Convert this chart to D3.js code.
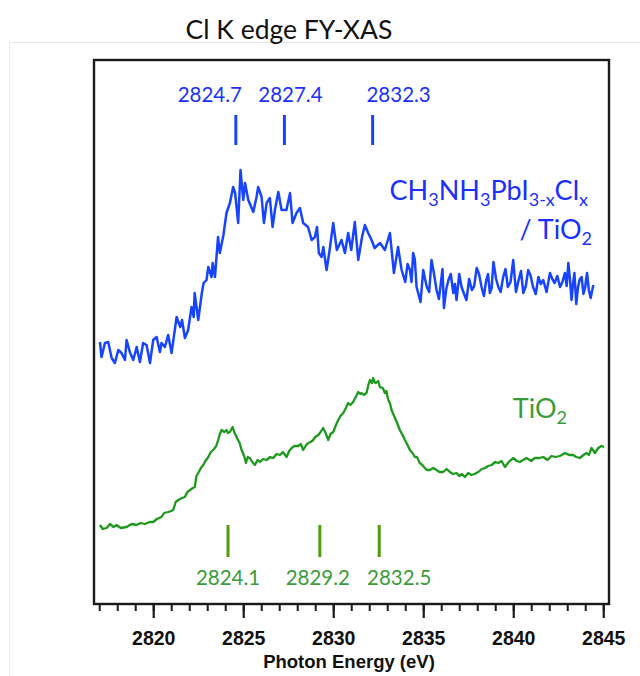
<!DOCTYPE html>
<html>
<head>
<meta charset="utf-8">
<script src="https://cdn.jsdelivr.net/npm/d3@7"></script>
<style>
  body { margin: 0; background: #fff; }
  svg { display: block; }
</style>
</head>
<body>
<svg id="chart" width="640" height="676"></svg>
<script>
// perovskite film on TiO2 (blue), energy in eV and fluorescence yield (a.u.)
const pvkEnergy = [2817.04,2817.13,2817.32,2817.5,2817.69,2817.87,2818.06,2818.24,2818.43,2818.52,2818.7,2818.89,2819.08,2819.26,2819.44,2819.63,2819.82,2820.0,2820.19,2820.37,2820.46,2820.65,2820.83,2821.02,2821.3,2821.5,2821.6,2821.76,2821.94,2822.13,2822.25,2822.3,2822.5,2822.7,2822.8,2822.96,2823.06,2823.24,2823.3,2823.43,2823.6,2823.7,2823.9,2824.07,2824.26,2824.44,2824.55,2824.72,2824.85,2825.0,2825.1,2825.28,2825.56,2825.74,2825.83,2826.02,2826.15,2826.3,2826.48,2826.63,2826.76,2826.95,2827.13,2827.4,2827.6,2827.74,2827.96,2828.15,2828.33,2828.6,2828.8,2828.98,2829.1,2829.2,2829.35,2829.45,2829.63,2829.8,2830.0,2830.2,2830.46,2830.65,2830.83,2831.0,2831.2,2831.39,2831.6,2831.76,2831.94,2832.13,2832.3,2832.6,2832.87,2833.15,2833.37,2833.6,2833.8,2834.0,2834.13,2834.26,2834.35,2834.44,2834.53,2834.63,2834.85,2835.0,2835.1,2835.2,2835.33,2835.46,2835.6,2835.74,2835.87,2836.0,2836.07,2836.15,2836.28,2836.4,2836.53,2836.67,2836.76,2836.85,2837.0,2837.13,2837.27,2837.4,2837.55,2837.7,2837.83,2837.97,2838.1,2838.24,2838.37,2838.5,2838.6,2838.7,2838.8,2838.9,2839.05,2839.17,2839.3,2839.44,2839.57,2839.7,2839.85,2840.0,2840.15,2840.3,2840.43,2840.56,2840.7,2840.83,2840.97,2841.1,2841.25,2841.4,2841.53,2841.67,2841.85,2842.04,2842.17,2842.3,2842.45,2842.6,2842.73,2842.87,2842.97,2843.06,2843.15,2843.24,2843.32,2843.4,2843.5,2843.6,2843.7,2843.8,2843.9,2844.0,2844.05,2844.1,2844.2,2844.3,2844.45];
const pvkYield = [262,247,261,262,246,241,254,251,244,264,252,244,257,242,261,259,241,264,267,252,261,257,269,251,287,277,284,266,274,297,287,311,284,311,321,324,337,327,341,327,367,351,369,391,401,417,411,381,434,404,421,404,392,407,417,407,381,401,406,377,394,412,394,394,411,381,391,396,381,377,364,367,377,351,347,357,334,354,381,354,364,351,371,354,382,344,367,379,371,364,356,361,354,371,331,357,334,322,340,334,322,351,345,317,302,334,325,317,312,344,330,314,305,324,335,296,315,324,330,311,320,304,330,317,310,304,325,314,318,336,330,317,308,324,330,311,316,342,325,317,312,327,335,317,322,344,312,324,333,311,318,334,328,317,310,327,320,324,312,331,325,321,328,317,322,331,318,341,325,304,320,331,300,317,325,327,310,317,325,331,314,306,319];

// bare TiO2 reference (green)
const tioEnergy = [2817.04,2817.2,2817.41,2817.6,2817.8,2817.96,2818.2,2818.52,2818.8,2819.07,2819.3,2819.54,2819.8,2820.0,2820.2,2820.46,2820.6,2820.83,2821.0,2821.11,2821.25,2821.39,2821.6,2821.76,2821.9,2822.04,2822.2,2822.31,2822.4,2822.5,2822.65,2822.78,2822.9,2823.06,2823.2,2823.33,2823.5,2823.61,2823.7,2823.8,2823.95,2824.07,2824.15,2824.26,2824.41,2824.5,2824.63,2824.8,2824.91,2825.05,2825.15,2825.25,2825.37,2825.5,2825.65,2825.8,2825.93,2826.1,2826.3,2826.5,2826.67,2826.85,2827.04,2827.2,2827.41,2827.55,2827.69,2827.85,2828.06,2828.2,2828.33,2828.5,2828.61,2828.75,2828.89,2829.0,2829.17,2829.3,2829.44,2829.6,2829.72,2829.85,2830.0,2830.15,2830.28,2830.4,2830.56,2830.7,2830.83,2830.95,2831.11,2831.25,2831.39,2831.5,2831.57,2831.7,2831.85,2831.95,2832.04,2832.15,2832.22,2832.3,2832.37,2832.5,2832.59,2832.75,2832.87,2832.95,2833.06,2833.15,2833.24,2833.43,2833.55,2833.7,2833.85,2833.98,2834.1,2834.26,2834.4,2834.54,2834.65,2834.81,2834.95,2835.09,2835.2,2835.37,2835.55,2835.74,2835.9,2836.11,2836.3,2836.48,2836.65,2836.85,2837.0,2837.15,2837.31,2837.5,2837.68,2837.85,2838.06,2838.25,2838.43,2838.6,2838.8,2839.0,2839.17,2839.35,2839.54,2839.75,2840.0,2840.2,2840.37,2840.55,2840.74,2841.0,2841.2,2841.45,2841.67,2841.9,2842.13,2842.35,2842.59,2842.87,2843.1,2843.33,2843.5,2843.7,2843.9,2844.07,2844.2,2844.35,2844.54,2844.72,2844.9,2845.05];
const tioYield = [79,75,76,80,77,79,76,77,80,79,81,80,82,82,85,87,91,92,93,94,102,104,106,107,112,114,116,117,128,131,136,139,143,147,152,154,158,164,170,174,172,174,171,172,177,172,167,161,154,148,141,147,146,142,139,144,142,145,144,147,146,150,149,152,147,153,156,158,158,160,154,159,161,162,164,167,169,172,176,170,164,170,172,179,184,188,191,196,201,199,202,207,212,210,211,209,211,219,224,221,226,222,221,223,217,216,211,213,204,201,194,186,181,174,169,164,160,154,151,147,147,141,139,136,134,134,136,134,132,132,135,132,130,131,128,130,127,131,129,130,132,135,136,138,139,142,141,143,137,142,146,143,142,144,146,143,146,146,147,144,148,147,148,151,149,149,147,146,149,151,149,156,151,156,158,157];

// assigned peak positions (eV)
const pvkPeaks = [2824.7, 2827.4, 2832.3];
const tioPeaks = [2824.1, 2829.2, 2832.5];
const xMajorTicks = [2820, 2825, 2830, 2835, 2840, 2845];

const svg = d3.select("#chart");
const plotL = 94, plotR = 609, plotT = 60, plotB = 604;

const x = d3.scaleLinear().domain([2816.71, 2845.32]).range([plotL, plotR]);
const y = d3.scaleLinear().domain([0, 544]).range([plotB, plotT]);

const blue = "#1744ff", blueText = "#1a30ff";
const green = "#1d9a1d", greenMark = "#4f9d0c", greenText = "#3b9c3b";

// faint slide border
svg.append("path")
  .attr("d", "M9.5,676 V42.5 H640")
  .attr("fill", "none")
  .attr("stroke", "#e8e8e8")
  .attr("stroke-width", 1);

svg.append("text")
  .attr("x", 289).attr("y", 39)
  .attr("text-anchor", "middle")
  .attr("font-family", "Lato, 'Open Sans', sans-serif")
  .attr("font-size", 26.5)
  .attr("fill", "#111")
  .text("Cl K edge FY-XAS");

const line = d3.line().x(d => x(d[0])).y(d => y(d[1]));

svg.append("path")
  .datum(d3.zip(tioEnergy, tioYield))
  .attr("fill", "none")
  .attr("stroke", green)
  .attr("stroke-width", 2.3)
  .attr("stroke-linejoin", "round")
  .attr("d", line);

svg.append("path")
  .datum(d3.zip(pvkEnergy, pvkYield))
  .attr("fill", "none")
  .attr("stroke", blue)
  .attr("stroke-width", 2.5)
  .attr("stroke-linejoin", "round")
  .attr("d", line);

// peak markers
const labelFont = "Lato, 'Open Sans', sans-serif";
const pvkDx = [-28, 4, 24], tioDx = [1, -1, 21];

svg.selectAll(".pvkmark").data(pvkPeaks).enter()
  .append("line")
  .attr("x1", d => x(d) - 2).attr("x2", d => x(d) - 2)
  .attr("y1", 115).attr("y2", 145)
  .attr("stroke", blue).attr("stroke-width", 3);
svg.selectAll(".pvklab").data(pvkPeaks).enter()
  .append("text")
  .attr("x", (d, i) => x(d) + pvkDx[i]).attr("y", 102)
  .attr("text-anchor", "middle")
  .attr("font-family", labelFont).attr("font-size", 20.5)
  .attr("fill", blueText)
  .text(d => d.toFixed(1));

svg.selectAll(".tiomark").data(tioPeaks).enter()
  .append("line")
  .attr("x1", d => x(d) + 1).attr("x2", d => x(d) + 1)
  .attr("y1", 525).attr("y2", 557)
  .attr("stroke", greenMark).attr("stroke-width", 3);
svg.selectAll(".tiolab").data(tioPeaks).enter()
  .append("text")
  .attr("x", (d, i) => x(d) + tioDx[i]).attr("y", 585)
  .attr("text-anchor", "middle")
  .attr("font-family", labelFont).attr("font-size", 20.5)
  .attr("fill", greenText)
  .text(d => d.toFixed(1));

// series names, [text, isSubscript]
function chem(x0, y0, parts, color) {
  const t = svg.append("text")
    .attr("x", x0).attr("y", y0).attr("text-anchor", "end")
    .attr("font-family", labelFont).attr("font-size", 27).attr("fill", color);
  let low = false;
  parts.forEach(([s, isSub]) => {
    const sp = t.append("tspan").text(s);
    if (isSub) sp.attr("font-size", 18);
    if (isSub && !low) sp.attr("dy", 6);
    if (!isSub && low) sp.attr("dy", -6);
    low = isSub;
  });
}
chem(588, 200, [["CH", 0], ["3", 1], ["NH", 0], ["3", 1], ["PbI", 0], ["3-x", 1], ["Cl", 0], ["x", 1]], blueText);
chem(592, 239, [["/ TiO", 0], ["2", 1]], blueText);
chem(567, 418, [["TiO", 0], ["2", 1]], greenText);

// frame
svg.append("rect")
  .attr("x", plotL).attr("y", plotT)
  .attr("width", plotR - plotL).attr("height", plotB - plotT)
  .attr("fill", "none").attr("stroke", "#1a1a1a").attr("stroke-width", 2.4);

// bottom axis: minor ticks every eV, major every 5 eV
const minor = svg.append("g").attr("transform", `translate(0,${plotB})`)
  .call(d3.axisBottom(x).tickValues(d3.range(2817, 2846)).tickSize(7).tickFormat(""));
minor.select(".domain").remove();
minor.selectAll("line").attr("stroke", "#1a1a1a").attr("stroke-width", 2);

const major = svg.append("g").attr("transform", `translate(0,${plotB})`)
  .call(d3.axisBottom(x).tickValues(xMajorTicks).tickSize(14).tickPadding(13).tickFormat(d3.format("d")));
major.select(".domain").remove();
major.selectAll("line").attr("stroke", "#1a1a1a").attr("stroke-width", 2.2);
major.selectAll("text")
  .attr("font-family", "'Liberation Sans', Arial, sans-serif")
  .attr("font-weight", "bold").attr("font-size", 19.5).attr("fill", "#111");

svg.append("text")
  .attr("x", 349).attr("y", 668)
  .attr("text-anchor", "middle")
  .attr("font-family", "'Liberation Sans', Arial, sans-serif")
  .attr("font-weight", "bold").attr("font-size", 18.5).attr("fill", "#111")
  .text("Photon Energy (eV)");
</script>
</body>
</html>
